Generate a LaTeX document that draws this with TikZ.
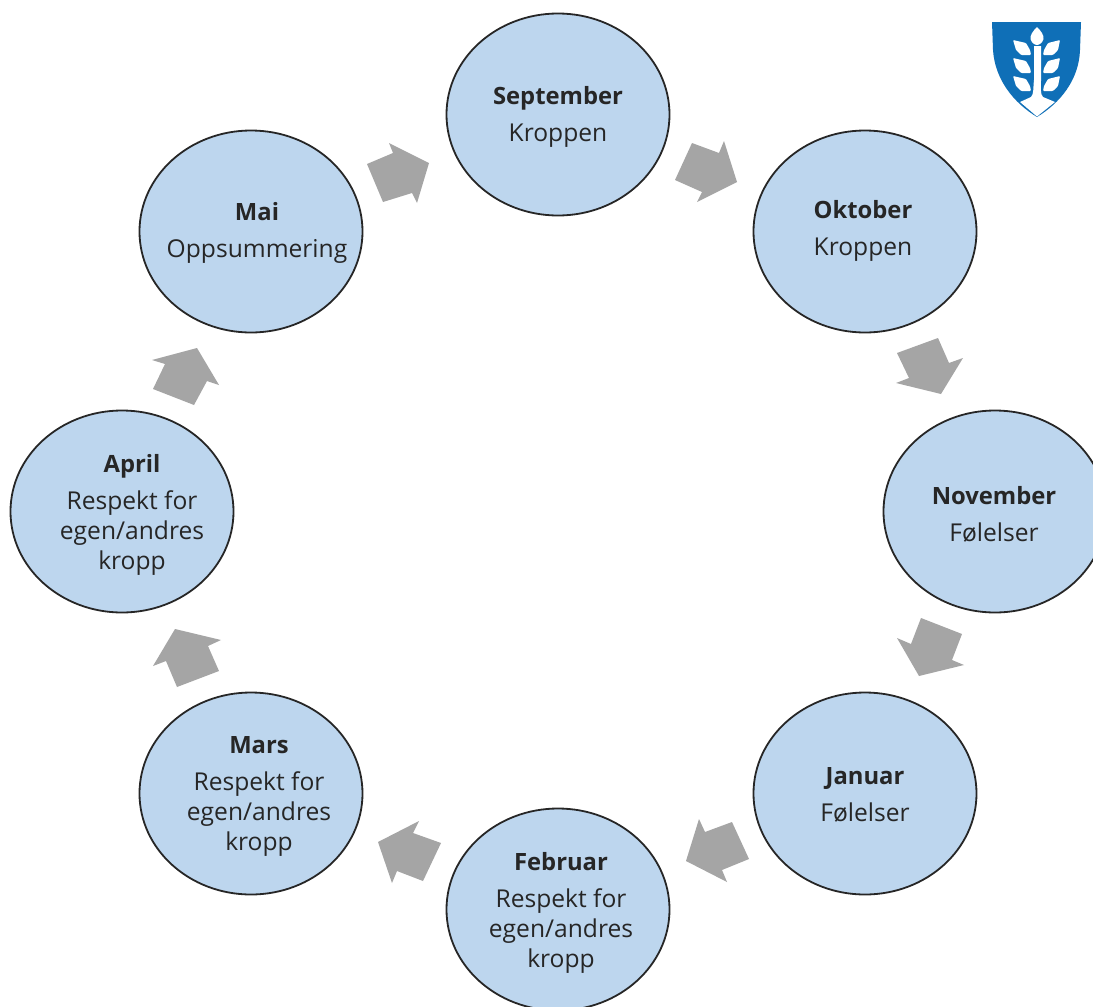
\documentclass[tikz,border=0pt]{standalone}
\usepackage{fontspec}
\setmainfont{Open Sans}
\usetikzlibrary{shapes.geometric}
\definecolor{monthfill}{HTML}{BDD6EE}
\definecolor{arrowgray}{HTML}{A5A5A5}
\definecolor{shieldblue}{HTML}{0F6FB7}
\tikzset{
  month/.style={ellipse,draw=black!85,fill=monthfill,line width=1.8pt,minimum width=223pt,minimum height=202pt,inner sep=0pt},
  monthtext/.style={align=center,font=\fontsize{24.6}{30}\selectfont,text=black!85,inner sep=0pt},
  blockarrow/.style={fill=arrowgray,draw=none},
  leaf/.style={fill=white,draw=none,rounded corners=1pt}
}
\newcommand{\mon}[2]{{\fontsize{23.8}{30}\selectfont\textbf{#1}}\\[7pt]#2}
\begin{document}
\begin{tikzpicture}[x=1pt,y=-1pt]
\clip (0,0) rectangle (1093,1007);
\fill[white] (0,0) rectangle (1093,1007);
% months
\node[month] (sep) at (558,114.5) {};
\node[month] (okt) at (865,231.5) {};
\node[month] (nov) at (995,511.5) {};
\node[month] (jan) at (865,793.5) {};
\node[month] (feb) at (558,909.5) {};
\node[month] (mar) at (251,793.5) {};
\node[month] (apr) at (122,511.5) {};
\node[month] (mai) at (251,231.5) {};
\node[monthtext] (sept) at (558,117) {\mon{September}{Kroppen}};
\node[monthtext] (oktt) at (863,231) {\mon{Oktober}{Kroppen}};
\node[monthtext] (novt) at (994,514) {\mon{November}{Følelser}};
\node[monthtext] (jant) at (865,795) {\mon{Januar}{Følelser}};
\node[monthtext] (febt) at (561,912.5) {\mon{Februar}{Respekt for\\egen/andres\\kropp}};
\node[monthtext] (mart) at (259,796.5) {\mon{Mars}{Respekt for\\egen/andres\\kropp}};
\node[monthtext] (aprt) at (132,514.5) {\mon{April}{Respekt for\\egen/andres\\kropp}};
\node[monthtext] (mait) at (257,233) {\mon{Mai}{Oppsummering}};
% block arrows
\fill[blockarrow] (367,164)--(393,153)--(389,143)--(429,163)--(417,203)--(412,193)--(383,202)--cycle;
\fill[blockarrow] (675,180)--(692,143)--(719,153)--(724,141)--(737,182)--(697,202)--(702,192)--cycle;
\fill[blockarrow] (897,353)--(938,338)--(949,363)--(963,358)--(941,394)--(896,383)--(909,378)--cycle;
\fill[blockarrow] (921,618)--(962,634)--(952,660)--(964,665)--(919,676)--(897,638)--(911,644)--cycle;
\fill[blockarrow] (732,822)--(749,859)--(722,870)--(727,882)--(686,861)--(699,819)--(705,832)--cycle;
\fill[blockarrow] (441,843)--(423,881)--(397,871)--(392,883)--(378,842)--(419,821)--(413,833)--cycle;
\fill[blockarrow] (177,687)--(219,671)--(208,646)--(221,640)--(175,629)--(153,666)--(166,661)--cycle;
\fill[blockarrow] (153,389)--(165,364)--(152,360)--(197,348)--(219,385)--(207,381)--(194,405)--cycle;
% shield logo
\fill[shieldblue] (992,22)--(1081,22)--(1080,50) .. controls (1079,80) and (1060,103) .. (1037,117) .. controls (1014,103) and (995,80) .. (993,50)--cycle;
\fill[white] (1020,102)--(1031,97) .. controls (1034,94) and (1033,88) .. (1034,80)--(1034,46)--(1041,46)--(1041,80) .. controls (1041,88) and (1040,94) .. (1043,97)--(1055,102)--(1037,116.5)--cycle;
\fill[white] (1037,27) .. controls (1041,31) and (1044,35) .. (1043.5,39) .. controls (1042.5,43) and (1039,45) .. (1037,45) .. controls (1035,45) and (1031.5,43) .. (1030.5,39) .. controls (1030,35) and (1033,31) .. (1037,27)--cycle;
\foreach \dy in {0,18,36}{
  \fill[leaf,yshift=-\dy pt] (1013,40)--(1026,43)--(1030,50)--(1031,55)--(1021,55)--(1016,50)--cycle;
  \fill[leaf,yshift=-\dy pt] (1060,40)--(1048,43)--(1044,50)--(1043,55)--(1053,55)--(1058,50)--cycle;
}
\end{tikzpicture}
\end{document}
